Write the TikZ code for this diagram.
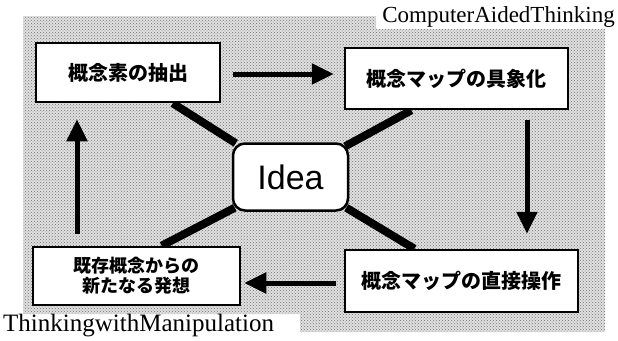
\documentclass[tikz,border=0pt]{standalone}
\usepackage{fontspec}
\usetikzlibrary{arrows.meta,calc,patterns}
\newfontfamily\jpfont{Noto Sans CJK JP}
\newfontfamily\ideafont{Liberation Sans}
\newfontfamily\labfont{Liberation Serif}
\pgfdeclarelayer{texture}
\pgfdeclarelayer{lines}
\pgfsetlayers{texture,lines,main}
\begin{document}
\begin{tikzpicture}[x=1pt,y=-1pt,
  box/.style={draw,line width=2.5pt,fill=white,inner sep=0pt,
    font=\jpfont\bfseries\fontsize{20}{24}\selectfont},
  ideabox/.style={draw,line width=2.5pt,fill=white,rounded corners=12pt,inner sep=0pt,
    font=\ideafont\fontsize{34}{40}\selectfont},
  conn/.style={line width=8pt},
  arr/.style={line width=5pt,-{Triangle[length=22pt,width=20pt]}},
  lab/.style={font=\labfont\fontsize{23}{26}\selectfont,inner sep=0pt}]
\useasboundingbox (0,0) rectangle (618,340);
% texture background
\begin{pgfonlayer}{texture}
\fill[black!12] (23,16) -- (376,16) -- (376,29) -- (605,29) -- (605,332) -- (300,332) -- (300,314) -- (23,314) -- cycle;
\fill[pattern=crosshatch dots,pattern color=black!55] (23,16) -- (376,16) -- (376,29) -- (605,29) -- (605,332) -- (300,332) -- (300,314) -- (23,314) -- cycle;
\end{pgfonlayer}
% nodes
\node[box,minimum width=184pt,minimum height=59pt] (b1) at (128,72.5) {概念素の抽出};
\node[box,minimum width=223pt,minimum height=61pt] (b2) at (456.5,78.5) {概念マップの具象化};
\node[box,minimum width=233pt,minimum height=62pt] (b3) at (461.5,281) {概念マップの直接操作};
\node[box,minimum width=207pt,minimum height=58pt,align=center,
  font=\jpfont\bfseries\fontsize{18}{20}\selectfont] (b4) at (136.5,276) {既存概念からの\\新たなる発想};
\node[ideabox,minimum width=115pt,minimum height=67pt] (idea) at (290.5,177) {Idea};
\node[lab,anchor=base east] (cat) at (615,23) {ComputerAidedThinking};
\node[lab,anchor=base west,font=\labfont\fontsize{25}{28}\selectfont] (twm) at (3,331) {ThinkingwithManipulation};
% connectors to Idea
\begin{pgfonlayer}{lines}
\draw[conn] ($(b1.south west)!0.74!(b1.south east)$) -- ($(idea.north west)+(4,1)$);
\draw[conn] ($(b2.south west)!0.30!(b2.south east)$) -- ($(idea.north east)+(-4,4)$);
\draw[conn] ($(b4.north west)!0.62!(b4.north east)$) -- ($(idea.south west)+(3,-4)$);
\draw[conn] ($(b3.north west)!0.30!(b3.north east)$) -- ($(idea.south east)+(-3,-4)$);
\end{pgfonlayer}
% cycle arrows
\draw[arr] ($(b1.east)+(12,1.5)$) -- ($(b2.west)+(-10,-4.5)$);
\draw[arr] ($(b2.south)+(70.5,10)$) -- ($(b3.north)+(65.5,-15)$);
\draw[arr] ($(b3.west)+(-8,2)$) -- ($(b4.east)+(3,7)$);
\draw[arr] ($(b4.north)+(-59.5,-12)$) -- ($(b1.south)+(-51,16)$);
\end{tikzpicture}
\end{document}
